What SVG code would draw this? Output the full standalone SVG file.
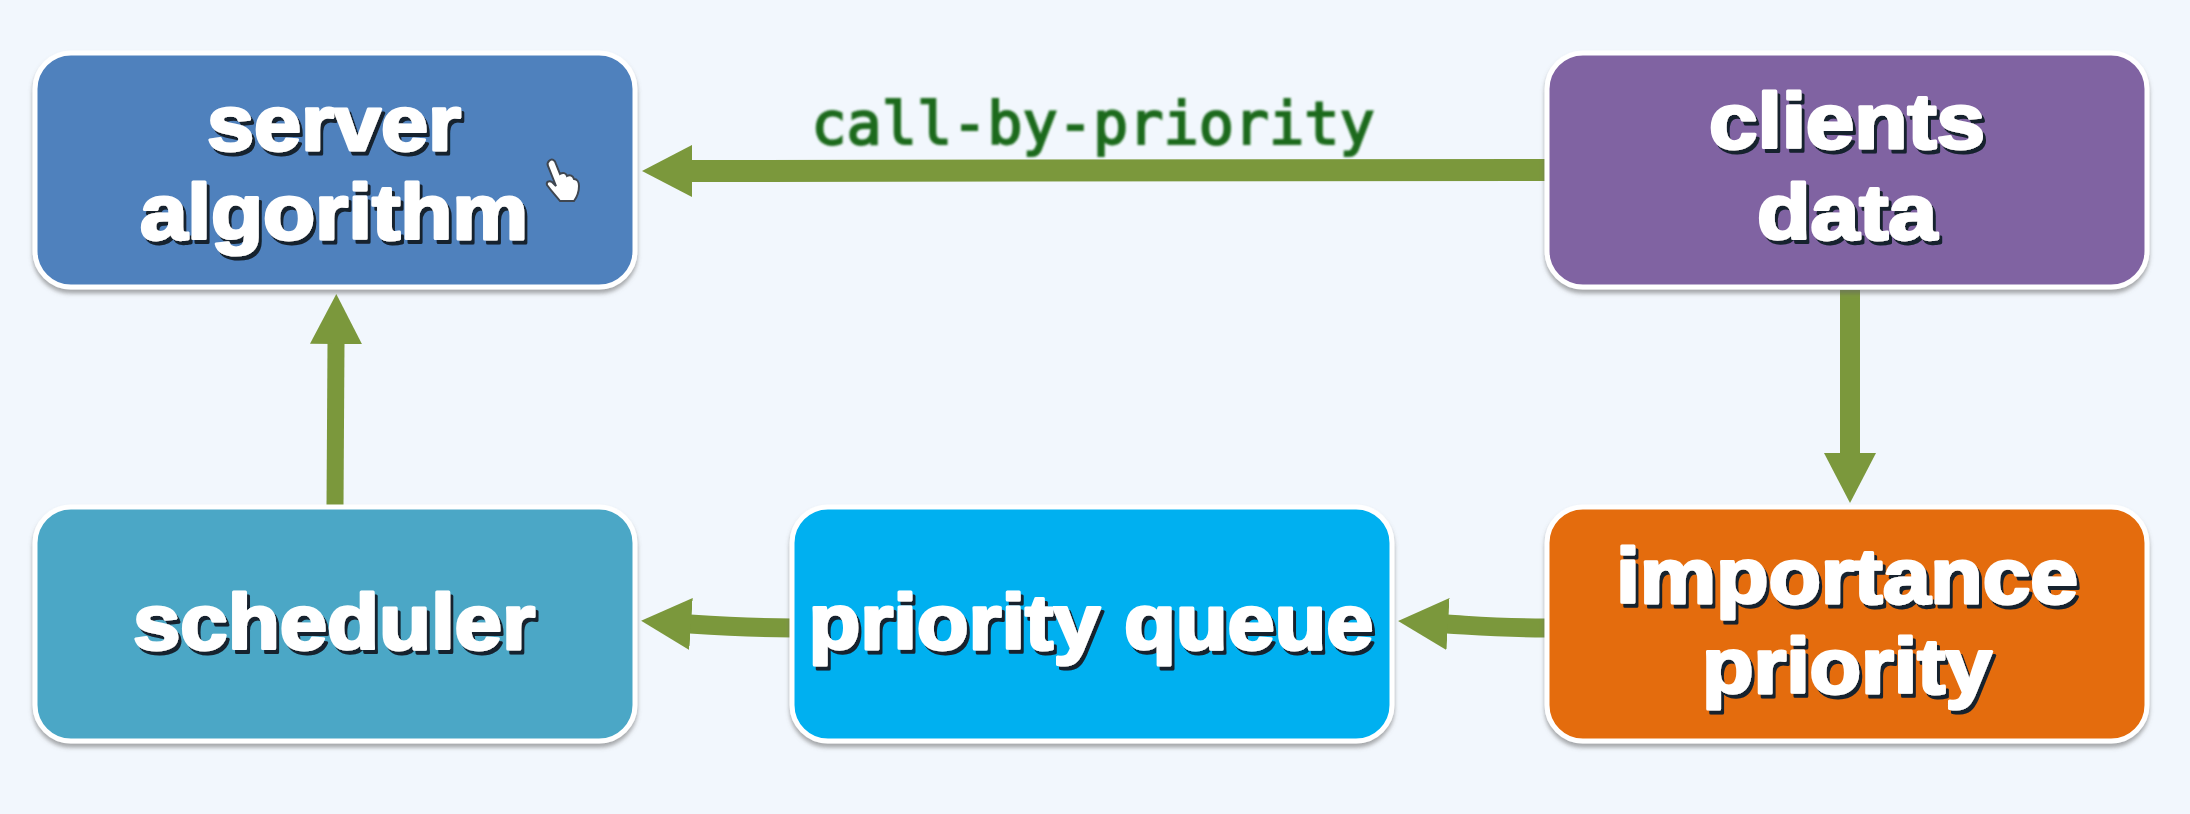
<svg xmlns="http://www.w3.org/2000/svg" width="2190" height="814" viewBox="0 0 2190 814">
<style>
.box{stroke:#fff;stroke-width:5;filter:url(#boxShadow)}
.lbl{font-family:"Liberation Sans",Arial,sans-serif;font-weight:700;font-size:78px;fill:#fff;stroke:#fff;stroke-width:3;stroke-linejoin:round;text-anchor:middle;filter:url(#textShadow)}
.edge{fill:none;stroke:#7b983c;stroke-width:19}
.cap{font-family:"DejaVu Sans Mono",monospace;font-size:58.5px;fill:#1c6a1c;stroke:#1c6a1c;stroke-width:2;text-anchor:middle;filter:url(#soft)}
</style>
<defs>
<filter id="boxShadow" x="-5%" y="-5%" width="110%" height="115%"><feGaussianBlur in="SourceAlpha" stdDeviation="2" result="b"/><feOffset in="b" dy="4" result="o"/><feFlood flood-color="#666" flood-opacity="0.55"/><feComposite in2="o" operator="in"/><feMerge><feMergeNode/><feMergeNode in="SourceGraphic"/></feMerge></filter>
<filter id="textShadow" x="-5%" y="-10%" width="110%" height="125%"><feGaussianBlur in="SourceGraphic" stdDeviation="0.7" result="t"/><feDropShadow in="t" dx="3" dy="4" stdDeviation="0.6" flood-color="#18222e" flood-opacity="1"/></filter>
<filter id="soft"><feGaussianBlur stdDeviation="0.8"/></filter>
<marker id="head" markerUnits="userSpaceOnUse" markerWidth="50" markerHeight="52" refX="1" refY="26" orient="auto"><path d="M0 0L50 26L0 52Z" fill="#7b983c"/></marker>
</defs>
<rect width="2190" height="814" fill="#f2f7fd"/>
<g id="connectors">
<path class="edge" style="stroke-width:22" d="M1546 170L691 171" marker-end="url(#head)"/>
<path class="edge" style="stroke-width:20" d="M1850 290L1850 454" marker-end="url(#head)"/>
<path class="edge" d="M1546 628C1500 628 1480 626 1447 624" marker-end="url(#head)"/>
<path class="edge" d="M792 628C750 628 720 626 690 624" marker-end="url(#head)"/>
<path class="edge" style="stroke-width:17" d="M335 505L336 343" marker-end="url(#head)"/>
</g>
<text class="cap" x="1093" y="144">call-by-priority</text>
<g id="server"><rect class="box" x="35" y="53" width="600" height="234" rx="36" fill="#4f81bd"/><text class="lbl" x="334" y="150" textLength="254" lengthAdjust="spacingAndGlyphs">server</text><text class="lbl" x="334" y="239" textLength="388" lengthAdjust="spacingAndGlyphs">algorithm</text></g>
<g id="clients"><rect class="box" x="1547" y="53" width="600" height="234" rx="36" fill="#8064a2"/><text class="lbl" x="1847" y="148" textLength="276" lengthAdjust="spacingAndGlyphs">clients</text><text class="lbl" x="1847" y="239" textLength="180" lengthAdjust="spacingAndGlyphs">data</text></g>
<g id="scheduler"><rect class="box" x="35" y="507" width="600" height="234" rx="36" fill="#4ba7c6"/><text class="lbl" x="334" y="649" textLength="402" lengthAdjust="spacingAndGlyphs">scheduler</text></g>
<g id="queue"><rect class="box" x="792" y="507" width="600" height="234" rx="36" fill="#00b0f0"/><text class="lbl" x="1091" y="649" textLength="565" lengthAdjust="spacingAndGlyphs">priority queue</text></g>
<g id="importance"><rect class="box" x="1547" y="507" width="600" height="234" rx="36" fill="#e46c0a"/><text class="lbl" x="1847" y="603" textLength="462" lengthAdjust="spacingAndGlyphs">importance</text><text class="lbl" x="1847" y="693" textLength="290" lengthAdjust="spacingAndGlyphs">priority</text></g>
<g id="cursor"><path d="M549 161C552 158 555 160 556 164L560 174C563 172 566 173 567 176C570 174 573 176 574 179C577 179 579 182 579 186C579 192 577 197 574 201L560 201C556 196 552 192 547 185C546 182 549 180 552 182L556 186L548 166C547 164 548 162 549 161Z" fill="#fff" stroke="#3f4650" stroke-width="2"/></g>
</svg>
